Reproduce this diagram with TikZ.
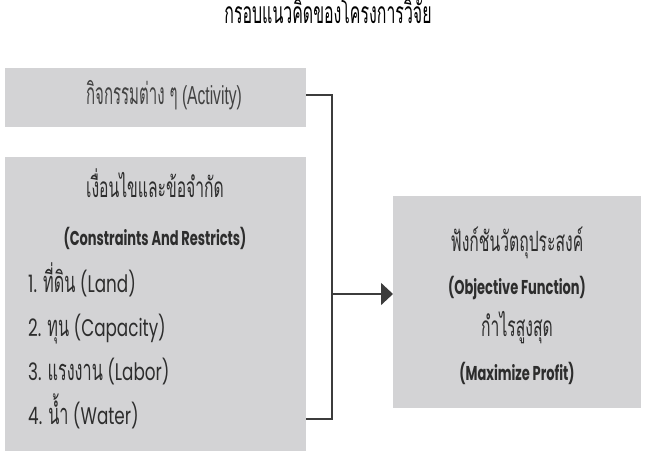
\documentclass[tikz,border=0pt]{standalone}
\usepackage{fontspec}
\setmainfont{Poppins}[FakeStretch=0.7]
\newfontfamily\engbold{Poppins Bold}[FakeStretch=0.65]
\newfontfamily\engnarrow{Liberation Sans}[FakeStretch=0.6]
\newfontfamily\thai[Script=Thai,FakeStretch=0.56]{Loma}
\newfontfamily\thaicond[Script=Thai,FakeStretch=0.5]{Loma}
\newfontfamily\thaititle[Script=Thai,FakeStretch=0.53]{Loma}
\newcommand{\thtxt}[1]{{\thai\fontsize{29}{31}\selectfont #1}}
\usetikzlibrary{arrows.meta}
\definecolor{boxgray}{RGB}{211,211,213}
\definecolor{txt}{RGB}{45,45,45}
\definecolor{txtlight}{RGB}{65,65,65}
\definecolor{linec}{RGB}{60,60,60}
\tikzset{
  box/.style={fill=boxgray, draw=none},
  lbl/.style={text=txt, inner sep=0pt, anchor=base},
  reg/.style={lbl, font=\fontsize{24}{26}\selectfont},
  bld/.style={lbl, font=\engbold\fontsize{20}{22}\selectfont},
  thl/.style={lbl, font=\thai\fontsize{28}{30}\selectfont},
  conn/.style={draw=linec, line width=1.6pt},
}
\begin{document}
\begin{tikzpicture}[x=1pt,y=-1pt]
\useasboundingbox (0,0) rectangle (650,450);
\fill[white] (0,0) rectangle (650,450);
% title
\node[lbl, text=black, font=\thaititle\fontsize{30}{32}\selectfont] (title) at (328,23) {กรอบแนวคิดของโครงการวิจัย};
% activity box
\path[box] (5,68) rectangle (306,127);
\coordinate (actE) at (306,95);
\node[lbl, text=txtlight, font=\engnarrow\fontsize{26}{28}\selectfont] (act) at (164,104) {{\thaicond\fontsize{30}{32}\selectfont กิจกรรมต่าง ๆ} (Activity)};
% constraints box
\path[box] (5,157) rectangle (306,452);
\coordinate (conE) at (306,419);
\node[thl] (c0) at (155,197) {เงื่อนไขและข้อจำกัด};
\node[bld] (c1) at (155,245) {(Constraints And Restricts)};
\node[reg, anchor=base west] (l1) at (28,292) {1. \thtxt{ที่ดิน} (Land)};
\node[reg, anchor=base west] (l2) at (28,336) {2. \thtxt{ทุน} (Capacity)};
\node[reg, anchor=base west] (l3) at (28,380) {3. \thtxt{แรงงาน} (Labor)};
\node[reg, anchor=base west] (l4) at (28,424) {4. \thtxt{น้ำ} (Water)};
% objective box
\path[box] (393,196) rectangle (641,408);
\coordinate (objW) at (393,294);
\node[thl] (o1) at (517,251) {ฟังก์ชันวัตถุประสงค์};
\node[bld] (o2) at (517,294) {(Objective Function)};
\node[thl] (o3) at (517,336) {กำไรสูงสุด};
\node[bld] (o4) at (517,380) {(Maximize Profit)};
% connectors
\coordinate (jTop) at (332,95);
\coordinate (jBot) at (332,419);
\coordinate (jMid) at (332,294);
\draw[conn, line join=miter] (actE) -- (jTop) -- (jBot) -- (conE);
\draw[conn, -{Triangle[length=12pt,width=22pt]}] (jMid) -- (objW);
\end{tikzpicture}
\end{document}
